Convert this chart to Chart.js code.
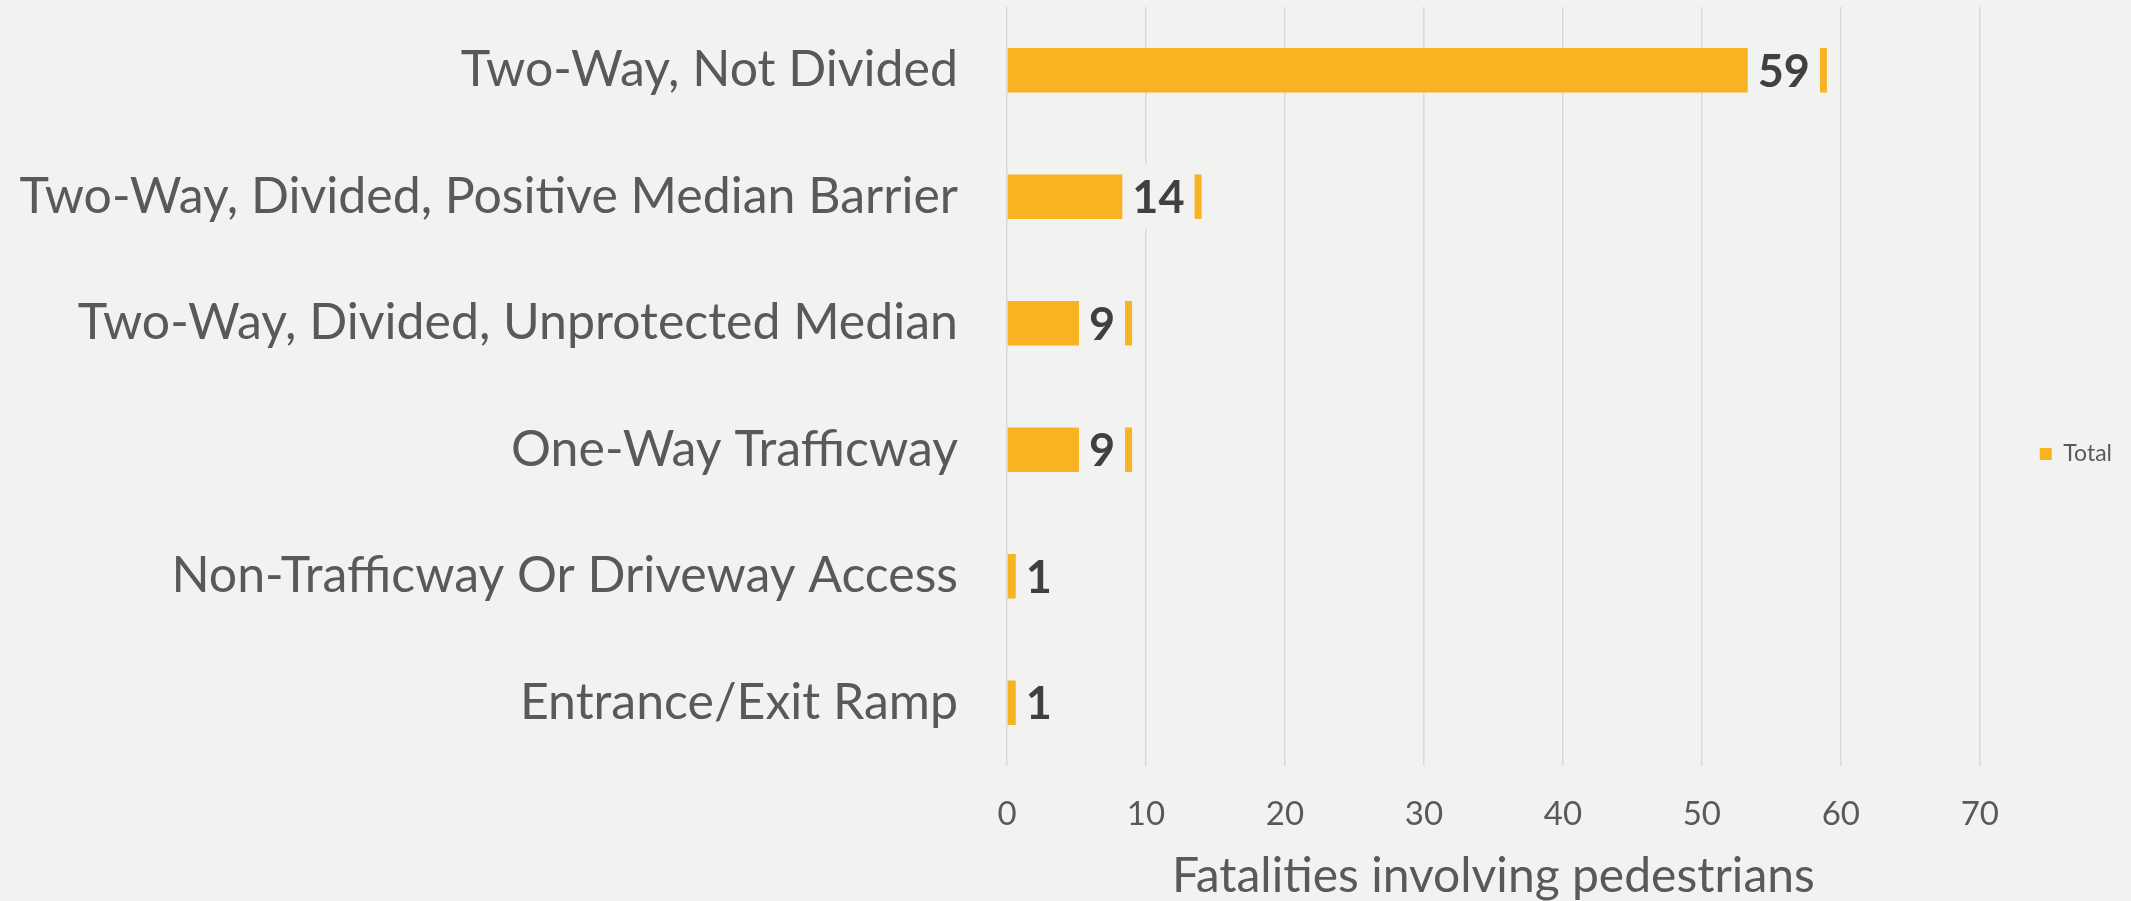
<!DOCTYPE html>
<html>
<head>
<meta charset="utf-8">
<script src="https://cdn.jsdelivr.net/npm/chart.js@4.4.1/dist/chart.umd.min.js"></script>
<style>
  html, body { margin: 0; padding: 0; background: #F2F2F0; overflow: hidden; }
  #wrap { width: 2131px; height: 901px; position: relative; }
</style>
</head>
<body>
<div id="wrap"><canvas id="mainChart"></canvas></div>
<script>
"use strict";

// data
const categories = [
    "Two-Way, Not Divided",
    "Two-Way, Divided, Positive Median Barrier",
    "Two-Way, Divided, Unprotected Median",
    "One-Way Trafficway",
    "Non-Trafficway Or Driveway Access",
    "Entrance/Exit Ramp"
];
const totals = [59, 14, 9, 9, 1, 1];
const seriesName = "Total";
const axisTitle = "Fatalities involving pedestrians";
const axisMax = 70;
const axisStep = 10;

const bgColor = "#F2F2F0";
const barColor = "#F8B323";
const textColor = "#595959";
const labelColor = "#404040";
const fontName = "Lato, 'DejaVu Sans', sans-serif";

// value labels sit in a background-coloured box just inside the bar end
var valueLabels = {
    id: "valueLabels",
    afterDatasetsDraw: function (chart) {
        var ctx = chart.ctx;
        var meta = chart.getDatasetMeta(0);
        var values = chart.data.datasets[0].data;
        ctx.save();
        ctx.font = "bold 45px " + fontName;
        ctx.textAlign = "center";
        ctx.textBaseline = "middle";
        meta.data.forEach(function (bar, i) {
            var txt = String(values[i]);
            var w = ctx.measureText(txt).width + 20;
            var right = bar.x - 7;
            var left = right - w;
            if (left < bar.base + 8) {
                left = bar.base + 8;
            }
            ctx.fillStyle = bgColor;
            ctx.fillRect(left, bar.y - 32, w, 64);
            ctx.fillStyle = labelColor;
            ctx.fillText(txt, left + w / 2, bar.y + 2);
        });
        ctx.restore();
    }
};

var chartSelector = document.getElementById("mainChart");

var chart = new Chart(chartSelector, {
    type: "bar",
    data: {
        labels: categories,
        datasets: [{
            label: seriesName,
            data: totals,
            backgroundColor: barColor,
            borderWidth: 0,
            categoryPercentage: 1,
            barPercentage: 0.352
        }]
    },
    options: {
        indexAxis: "y",
        responsive: true,
        maintainAspectRatio: false,
        animation: false,
        layout: {
            padding: { top: 7, right: 9, bottom: 0, left: 0 }
        },
        plugins: {
            tooltip: { enabled: false },
            legend: {
                position: "right",
                labels: {
                    boxWidth: 12,
                    boxHeight: 12,
                    padding: 60,
                    color: textColor,
                    font: { family: fontName, size: 23 }
                }
            }
        },
        scales: {
            x: {
                min: 0,
                max: axisMax,
                ticks: {
                    stepSize: axisStep,
                    padding: 29,
                    color: textColor,
                    font: { family: fontName, size: 33 }
                },
                grid: {
                    color: "#D9D9D9",
                    lineWidth: 1.5,
                    drawTicks: false,
                    tickLength: 0
                },
                border: { display: false },
                title: {
                    display: true,
                    text: axisTitle,
                    color: textColor,
                    font: { family: fontName, size: 48, lineHeight: 1 },
                    padding: { top: 0, bottom: 0 }
                },
                afterFit: function (scale) {
                    scale.height = 135;
                }
            },
            y: {
                ticks: {
                    padding: 49,
                    color: textColor,
                    font: { family: fontName, size: 50 }
                },
                grid: { display: false, drawTicks: false },
                border: { display: false },
                afterFit: function (scale) {
                    scale.width = 1007;
                    scale.paddingTop = 0;
                    scale.paddingBottom = 0;
                }
            }
        }
    },
    plugins: [valueLabels]
});
</script>
</body>
</html>
